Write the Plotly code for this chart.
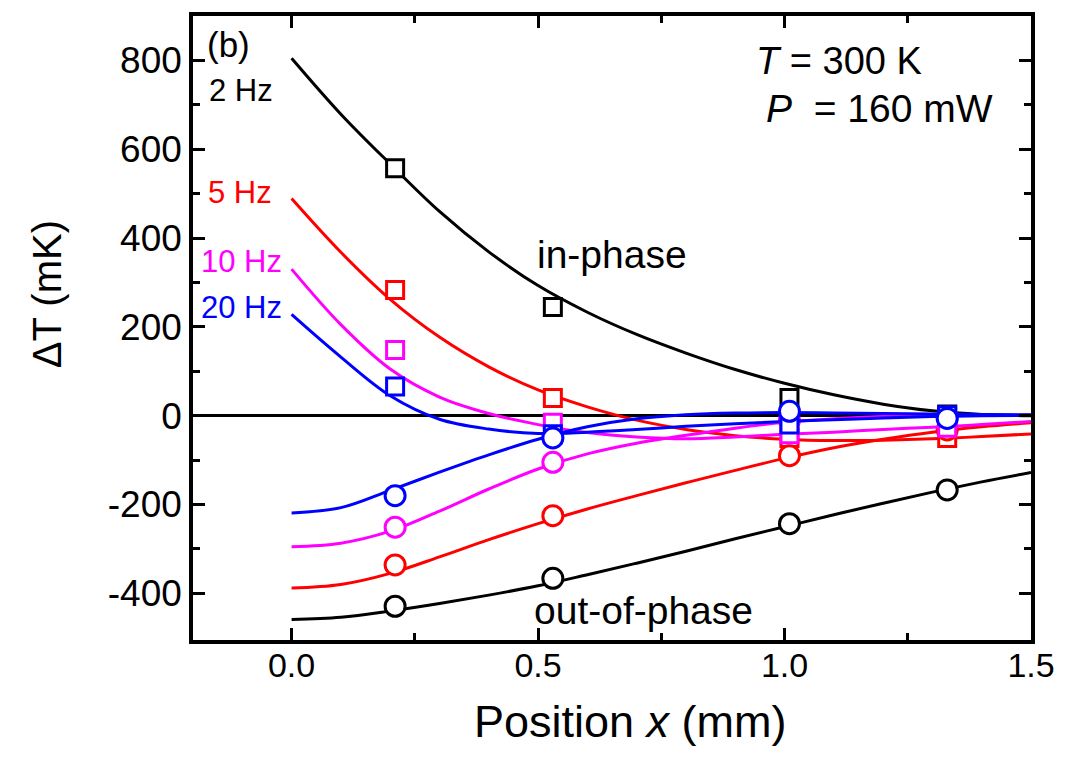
import plotly.graph_objects as go

# ---- data ----
x_fit = [0.0, 0.1, 0.2, 0.3, 0.4, 0.5, 0.6, 0.7, 0.8, 0.9, 1.0, 1.1, 1.2, 1.3, 1.4, 1.5]

inph_2hz = [805, 679, 567, 460, 369, 293, 233, 183, 141, 104, 73, 47, 26, 11, 3, 0]
inph_5hz = [489, 368, 262, 177, 110, 58, 20, -10, -31, -45, -53, -56, -55, -52, -47, -41]
inph_10hz = [330, 205, 105, 42, 5, -20, -38, -48, -52, -48, -42, -37, -31, -26, -20, -13]
inph_20hz = [228, 132, 45, -8, -30, -40, -37, -31, -24, -18, -13, -9, -5, -2, 0, 1]

outph_2hz = [-459, -454, -440, -423, -404, -383, -358, -332, -305, -277, -250, -223, -197, -172, -149, -128]
outph_5hz = [-388, -380, -355, -318, -279, -243, -210, -180, -151, -123, -96, -72, -53, -37, -25, -16]
outph_10hz = [-295, -287, -260, -215, -165, -120, -86, -62, -44, -28, -15, -7, -2, 0, 1, 1]
outph_20hz = [-219, -207, -168, -127, -88, -53, -25, -7, 2, 6, 7, 6, 5, 4, 3, 2]

x_data = [0.21, 0.53, 1.01, 1.33]
sq_2hz = [557, 245, 40, 3]
sq_5hz = [283, 40, -50, -50]
sq_10hz = [148, -16, -42, -27]
sq_20hz = [66, -42, -20, 1]
ci_2hz = [-429, -366, -243, -167]
ci_5hz = [-336, -225, -90, -32]
ci_10hz = [-251, -105, -10, -3]
ci_20hz = [-180, -50, 10, -6]

freq_labels = ["2 Hz", "5 Hz", "10 Hz", "20 Hz"]
colors = ["#000000", "#FF0000", "#FF00FF", "#0000FF"]

y_tickvals = [-400, -200, 0, 200, 400, 600, 800]
y_ticktext = ["-400", "-200", "0", "200", "400", "600", "800"]
y_minor = [-300, -100, 100, 300, 500, 700]
x_tickvals = [0.0, 0.5, 1.0, 1.5]
x_ticktext = ["0.0", "0.5", "1.0", "1.5"]
x_minor = [0.25, 0.75, 1.25]

FONT = "Liberation Sans, Arial, sans-serif"

fig = go.Figure()
inph = [inph_2hz, inph_5hz, inph_10hz, inph_20hz]
outph = [outph_2hz, outph_5hz, outph_10hz, outph_20hz]
sqs = [sq_2hz, sq_5hz, sq_10hz, sq_20hz]
cis = [ci_2hz, ci_5hz, ci_10hz, ci_20hz]

for i in range(4):
    c = colors[i]
    fig.add_trace(go.Scatter(x=x_fit, y=inph[i], mode="lines", line=dict(color=c, width=3, shape="spline"),
                             showlegend=False, hoverinfo="skip"))
    fig.add_trace(go.Scatter(x=x_fit, y=outph[i], mode="lines", line=dict(color=c, width=3, shape="spline"),
                             showlegend=False, hoverinfo="skip"))
    fig.add_trace(go.Scatter(x=x_data, y=sqs[i], mode="markers",
                             marker=dict(symbol="square", size=17, color="white", line=dict(color=c, width=3)),
                             showlegend=False, name=freq_labels[i] + " in-phase"))
    fig.add_trace(go.Scatter(x=x_data, y=cis[i], mode="markers",
                             marker=dict(symbol="circle", size=20, color="white", line=dict(color=c, width=3)),
                             showlegend=False, name=freq_labels[i] + " out-of-phase"))

axis_common = dict(showline=True, linecolor="black", linewidth=3.5, mirror="allticks",
                   ticks="inside", ticklen=12, tickwidth=3, tickcolor="black",
                   showgrid=False)

fig.update_xaxes(range=[-0.2, 1.5], tickmode="array", tickvals=x_tickvals, ticktext=x_ticktext,
                 tickfont=dict(family=FONT, size=34, color="black"), ticklabelstandoff=-8,
                 zeroline=False,
                 minor=dict(tickmode="array", tickvals=x_minor, ticks="inside", ticklen=7, tickwidth=3,
                            tickcolor="black", showgrid=False),
                 **axis_common)
fig.update_yaxes(range=[-505, 900], tickmode="array", tickvals=y_tickvals, ticktext=y_ticktext,
                 tickfont=dict(family=FONT, size=37, color="black"), ticklabelstandoff=0,
                 zeroline=True, zerolinecolor="black", zerolinewidth=3,
                 minor=dict(tickmode="array", tickvals=y_minor, ticks="inside", ticklen=7, tickwidth=3,
                            tickcolor="black", showgrid=False),
                 **axis_common)

def ann(text, x, y, color="black", size=30, xanchor="left", **kw):
    fig.add_annotation(text=text, x=x, y=y, xref="paper", yref="paper", showarrow=False,
                       font=dict(family=FONT, size=size, color=color), xanchor=xanchor, yanchor="middle", **kw)

W0, W1, H0, H1 = 193, 1031, 12, 640
def px(xp):
    return (xp - W0) / (W1 - W0)
def py(yp):
    return (H1 - yp) / (H1 - H0)

ann("(b)", px(205), py(41), size=35)
ann(freq_labels[0], px(207), py(87), color=colors[0], size=31)
ann(freq_labels[1], px(206), py(190), color=colors[1], size=31)
ann(freq_labels[2], px(199), py(259), color=colors[2], size=31)
ann(freq_labels[3], px(199), py(305), color=colors[3], size=31)
ann("in-phase", px(535), py(252), size=39)
ann("out-of-phase", px(532), py(610), size=39)
ann("<i>T</i> = 300 K", px(754), py(57), size=38)
ann("<i>P</i>  = 160 mW", px(764), py(105), size=39)
ann("ΔT (mK)", px(47), py(292), size=40, xanchor="center", textangle=-90)
ann("Position <i>x</i> (mm)", px(630), py(722), size=45, xanchor="center")

fig.update_layout(width=1084, height=759, margin=dict(l=W0, r=1084 - W1, t=H0, b=759 - H1),
                  plot_bgcolor="white", paper_bgcolor="white", font=dict(family=FONT))

fig.write_html("out.html")
